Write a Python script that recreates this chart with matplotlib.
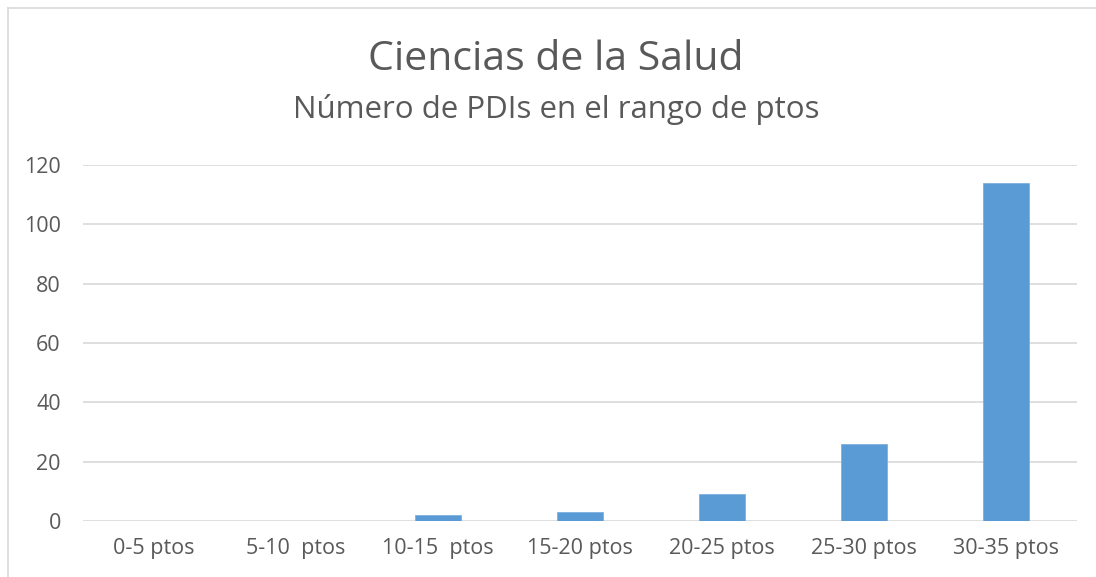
import matplotlib.pyplot as plt
from matplotlib.lines import Line2D

# datos
categorias = ["0-5 ptos", "5-10  ptos", "10-15  ptos", "15-20 ptos",
              "20-25 ptos", "25-30 ptos", "30-35 ptos"]
valores = [0, 0, 2, 3, 9, 26, 114]
yticks = [0, 20, 40, 60, 80, 100, 120]

W, H = 1096, 577
plt.rcParams['font.family'] = ['Open Sans', 'DejaVu Sans']
gris = '#595959'

fig = plt.figure(figsize=(W / 100, H / 100), dpi=100)
ax = fig.add_axes([83 / W, 1 - 521 / H, (1077 - 83) / W, (521 - 165) / H])

x = list(range(len(categorias)))
ax.bar(x, valores, width=0.32, color='#5b9bd5', edgecolor='#7eb0e0', linewidth=0.6, zorder=3)

ax.set_xlim(-0.5, len(categorias) - 0.5)
ax.set_ylim(0, 120)
ax.set_yticks(yticks)
ax.set_yticklabels([str(v) for v in yticks], fontsize=15.5, color=gris)
ax.set_xticks(x)
ax.set_xticklabels(categorias, fontsize=15.5, color=gris)
ax.tick_params(length=0)
ax.tick_params(axis='x', pad=12)
ax.tick_params(axis='y', pad=16)
ax.grid(axis='y', color='#d9d9d9', linewidth=1.2, zorder=0)
for s in ax.spines.values():
    s.set_visible(False)

fig.text(556 / W, 1 - 60 / H, "Ciencias de la Salud", ha='center', va='center',
         fontsize=29.5, color=gris)
fig.text(556 / W, 1 - 110 / H, "Número de PDIs en el rango de ptos", ha='center',
         va='center', fontsize=22.5, color=gris)

# borde del area del grafico
fig.add_artist(Line2D([7.5 / W, 7.5 / W], [0, 1 - 7.5 / H], color='#d9d9d9', linewidth=1.2))
fig.add_artist(Line2D([7.5 / W, 1], [1 - 7.5 / H, 1 - 7.5 / H], color='#d9d9d9', linewidth=1.2))

fig.savefig("out.png", dpi=100)
